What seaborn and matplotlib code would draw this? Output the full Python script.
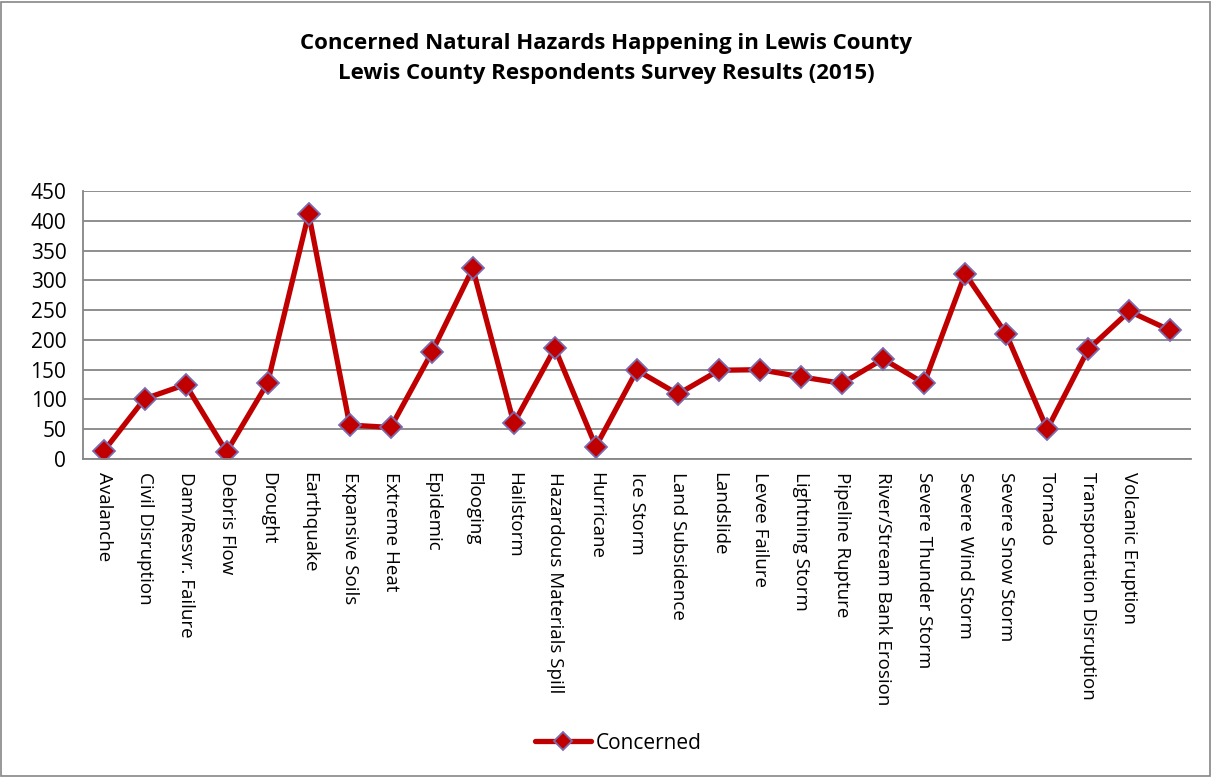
import pandas as pd
import seaborn as sns
import matplotlib.pyplot as plt
from matplotlib.patches import Rectangle

# Survey data
hazards = [
    "Avalanche", "Civil Disruption", "Dam/Resvr. Failure", "Debris Flow", "Drought",
    "Earthquake", "Expansive Soils", "Extreme Heat", "Epidemic", "Flooging",
    "Hailstorm", "Hazardous Materials Spill", "Hurricane", "Ice Storm",
    "Land Subsidence", "Landslide", "Levee Failure", "Lightning Storm",
    "Pipeline Rupture", "River/Stream Bank Erosion", "Severe Thunder Storm",
    "Severe Wind Storm", "Severe Snow Storm", "Tornado",
    "Transportation Disruption", "Volcanic Eruption", "",
]
concerned = [
    13, 101, 125, 12, 128,
    412, 57, 53, 179, 320,
    60, 186, 21, 149,
    109, 149, 150, 138,
    127, 168, 127,
    311, 210, 50,
    184, 248, 216,
]
y_ticks = [0, 50, 100, 150, 200, 250, 300, 350, 400, 450]

df = pd.DataFrame({"Hazard": hazards, "Concerned": concerned})

sns.set_theme(style="white")
plt.rcParams["font.family"] = ["Open Sans", "DejaVu Sans"]
plt.rcParams["text.color"] = "black"
plt.rcParams["xtick.color"] = "black"
plt.rcParams["ytick.color"] = "black"

fig = plt.figure(figsize=(12.12, 7.78), dpi=100)
ax = fig.add_axes([0.0685, 0.41, 0.914, 0.3445])

line_red = "#C00000"
edge_purple = "#7B6BB0"
grey = "#868686"

sns.lineplot(data=df, x="Hazard", y="Concerned", sort=False, ax=ax,
             color=line_red, linewidth=3.8, marker="D", markersize=11,
             markerfacecolor=line_red, markeredgecolor=edge_purple,
             markeredgewidth=1.3, label="Concerned")

ax.set_xlim(-0.5, len(hazards) - 0.5)
ax.set_ylim(0, 450)
ax.set_yticks(y_ticks)
ax.yaxis.grid(True, color=grey, linewidth=1.3)
ax.set_axisbelow(True)
ax.set_xlabel("")
ax.set_ylabel("")

# category axis: ticks between categories
ax.set_xticks(range(len(hazards)))
ax.set_xticklabels(hazards, rotation=-90, ha="center", va="top", fontsize=13.5)
ax.set_xticks([i - 0.5 for i in range(len(hazards) + 1)], minor=True)
ax.tick_params(axis="x", which="major", length=0, pad=9)
ax.tick_params(axis="x", which="minor", length=5, width=1.3, color=grey, direction="out")
ax.tick_params(axis="y", labelsize=15, length=5, width=1.3, color=grey,
               direction="out", pad=7)

for side in ["top", "right"]:
    ax.spines[side].set_visible(False)
for side in ["left", "bottom"]:
    ax.spines[side].set_color(grey)
    ax.spines[side].set_linewidth(1.3)

fig.suptitle("Concerned Natural Hazards Happening in Lewis County\n"
             "Lewis County Respondents Survey Results (2015)",
             x=0.5, y=0.958, fontsize=16, fontweight="bold", linespacing=1.6)

leg = ax.legend(loc="center", bbox_to_anchor=(0.483, -1.06), frameon=False,
                fontsize=15, handlelength=2.7, handletextpad=0.2, markerscale=0.85)

# outer chart border
fig.patches.append(Rectangle((0.001, 0.002), 0.997, 0.996, transform=fig.transFigure,
                             fill=False, edgecolor=grey, linewidth=1.2))

fig.savefig("out.png", dpi=100)
